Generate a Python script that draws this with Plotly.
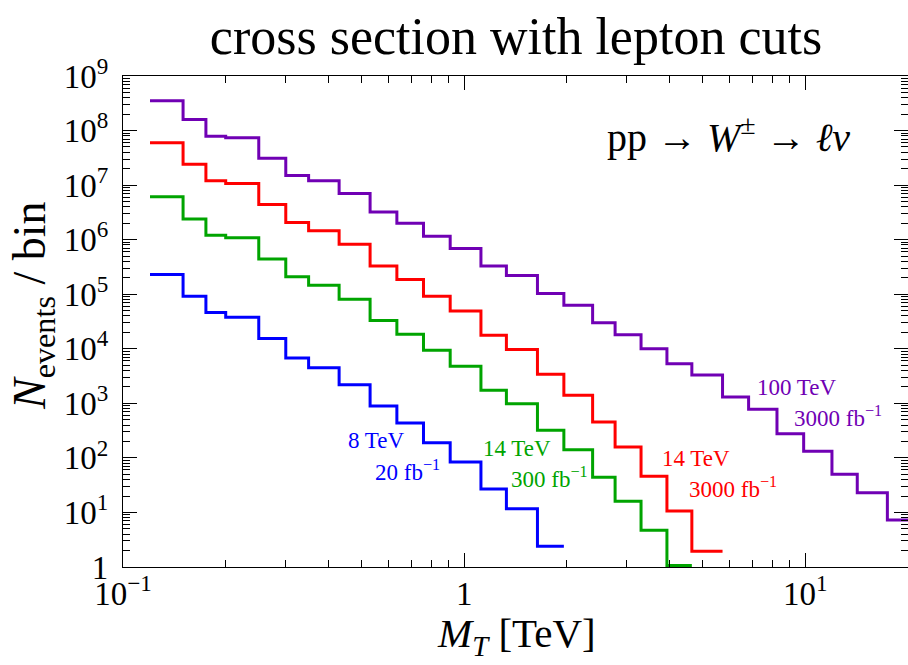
import plotly.graph_objects as go

# ---------------- data ----------------
bin_edges = [0.12, 0.15, 0.175, 0.2, 0.25, 0.3, 0.35, 0.43, 0.53, 0.635, 0.76, 0.91,
             1.12, 1.33, 1.64, 1.96, 2.38, 2.77, 3.30, 3.93, 4.65, 5.72, 6.82, 8.26,
             9.89, 11.97, 14.2, 17.4, 21.0]

n_100tev_3000 = [3.5e8, 1.6e8, 7.9e7, 7.4e7, 3.1e7, 1.5e7, 1.2e7, 7.0e6, 3.2e6, 2.0e6,
                 1.16e6, 6.9e5, 3.3e5, 2.2e5, 1.03e5, 6.3e4, 3.0e4, 1.8e4, 1.0e4, 5.3e3,
                 3.3e3, 1.3e3, 776, 278, 133, 50, 23, 7.3]
n_14tev_3000 = [6.0e7, 2.4e7, 1.2e7, 1.07e7, 4.4e6, 2.07e6, 1.45e6, 8.2e5, 3.3e5, 1.86e5,
                9.2e4, 4.9e4, 1.77e4, 9.7e3, 3.4e3, 1.4e3, 454, 158, 46, 10.6, 1.95]
n_14tev_300 = [6.1e6, 2.4e6, 1.21e6, 1.08e6, 4.4e5, 2.1e5, 1.46e5, 8.1e4, 3.3e4, 1.85e4,
               9.4e3, 4.8e3, 1.73e3, 986, 320, 141, 44, 16, 4.7, 1.07]
n_8tev_20 = [2.3e5, 9.2e4, 4.6e4, 3.8e4, 1.54e4, 6.8e3, 4.5e3, 2.2e3, 892, 435,
             190, 84, 27, 11.7, 2.4]

series_names = ["100 TeV, 3000 fb⁻¹", "14 TeV, 3000 fb⁻¹", "14 TeV, 300 fb⁻¹", "8 TeV, 20 fb⁻¹"]
series_values = [n_100tev_3000, n_14tev_3000, n_14tev_300, n_8tev_20]
series_colors = ["#7000B4", "#FF0000", "#00A400", "#0000FF"]

x_tick_vals = [0.1, 1, 10]
x_tick_text = ["10<sup>−1</sup>", "1", "10<sup>1</sup>"]
y_tick_vals = [1, 1e1, 1e2, 1e3, 1e4, 1e5, 1e6, 1e7, 1e8, 1e9]
y_tick_text = ["1"] + ["10<sup>%d</sup>" % k for k in range(1, 10)]

x_minor_vals = [m * 10.0 ** k for k in (-1, 0, 1) for m in range(2, 10)]
y_minor_vals = [m * 10.0 ** k for k in range(0, 9) for m in range(2, 10)]

# ---------------- figure ----------------
W, H = 908, 665
L, R, T, B = 123, 0, 76, 98
FONT = "Liberation Serif"

fig = go.Figure()
for name, vals, col in zip(series_names, series_values, series_colors):
    xs = bin_edges[:len(vals) + 1]
    ys = list(vals) + [vals[-1]]
    fig.add_trace(go.Scatter(x=xs, y=ys, mode="lines", line_shape="hv",
                             line=dict(color=col, width=3), name=name,
                             showlegend=False))

axis_common = dict(
    type="log", showgrid=False, zeroline=False,
    showline=True, linecolor="black", linewidth=1.3, mirror="allticks",
    ticks="inside", ticklen=14, tickwidth=1.2, tickcolor="black",
    tickfont=dict(family=FONT, size=33, color="black"),
)

fig.update_xaxes(range=[-1, 1.30103], tickvals=x_tick_vals, ticktext=x_tick_text,
                 ticklabelstandoff=-3,
                 minor=dict(tickvals=x_minor_vals, ticks="inside", ticklen=7,
                            tickwidth=1, tickcolor="black"),
                 **axis_common)
fig.update_yaxes(range=[0, 9], tickvals=y_tick_vals, ticktext=y_tick_text,
                 ticklabelstandoff=7,
                 minor=dict(tickvals=y_minor_vals, ticks="inside", ticklen=7,
                            tickwidth=1, tickcolor="black"),
                 **axis_common)


def px(x):
    return (x - L) / (W - L - R)


def py(y):
    return (H - B - y) / (H - T - B)


annos = [
    # axis titles
    dict(text="<i>M<sub>T</sub></i> [TeV]", x=px(516), y=py(664), size=41, color="black",
         xanchor="center", yanchor="bottom", angle=0),
    dict(text="<i>N</i><sub>events</sub> / bin", x=px(33), y=py(306), size=46,
         color="black", xanchor="center", angle=-90),
    # process
    dict(text="pp → <i>W</i><sup>±</sup> → <i>ℓν</i>", x=px(605), y=py(134), size=40,
         color="black", xanchor="left", angle=0),
    # series labels
    dict(text="100 TeV", x=px(755), y=py(387), size=23, color=series_colors[0], xanchor="left", angle=0),
    dict(text="3000 fb<sup>−1</sup>", x=px(792), y=py(416), size=23, color=series_colors[0], xanchor="left", angle=0),
    dict(text="14 TeV", x=px(660), y=py(458), size=23, color=series_colors[1], xanchor="left", angle=0),
    dict(text="3000 fb<sup>−1</sup>", x=px(687), y=py(487), size=23, color=series_colors[1], xanchor="left", angle=0),
    dict(text="14 TeV", x=px(481), y=py(448), size=23, color=series_colors[2], xanchor="left", angle=0),
    dict(text="300 fb<sup>−1</sup>", x=px(509), y=py(477), size=23, color=series_colors[2], xanchor="left", angle=0),
    dict(text="8 TeV", x=px(346), y=py(441), size=23, color=series_colors[3], xanchor="left", angle=0),
    dict(text="20 fb<sup>−1</sup>", x=px(373), y=py(470), size=23, color=series_colors[3], xanchor="left", angle=0),
]
for a in annos:
    fig.add_annotation(text=a["text"], x=a["x"], y=a["y"], xref="paper", yref="paper",
                       xanchor=a["xanchor"], yanchor=a.get("yanchor", "middle"),
                       showarrow=False, textangle=a["angle"],
                       font=dict(family=FONT, size=a["size"], color=a["color"]))

fig.update_layout(
    width=W, height=H,
    margin=dict(l=L, r=R, t=T, b=B, pad=0),
    paper_bgcolor="white", plot_bgcolor="white",
    title=dict(text="cross section with lepton cuts", x=516 / W, xanchor="center",
               y=1 - 36 / H, yanchor="middle", yref="container",
               font=dict(family=FONT, size=52, color="black")),
    font=dict(family=FONT, color="black"),
)

fig.write_html("out.html")
